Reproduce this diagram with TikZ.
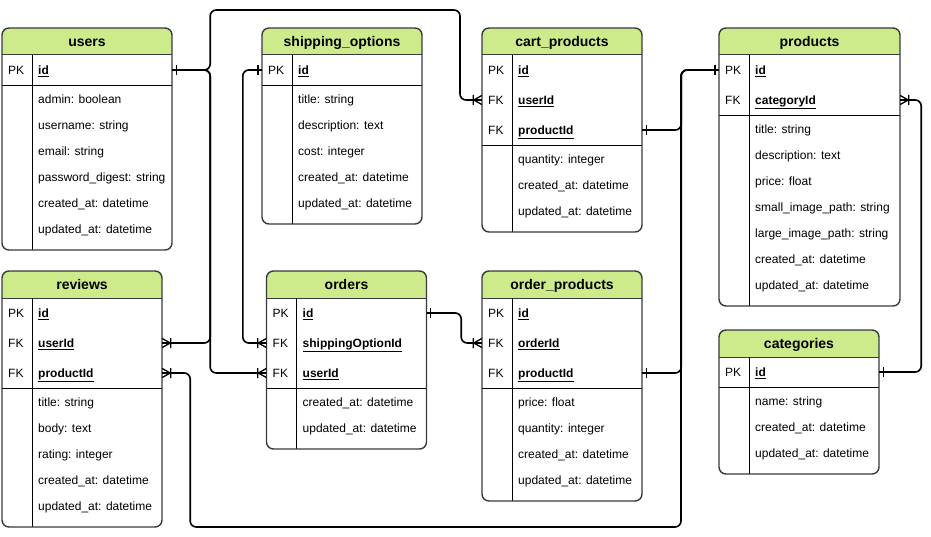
\documentclass[tikz,border=0pt]{standalone}
\usepackage{fontspec}
\setmainfont{Liberation Sans}
\definecolor{hdrgreen}{HTML}{CDEB8B}
\definecolor{bordergray}{HTML}{36393D}

\pgfdeclarearrow{
  name = ERmany,
  setup code = {
    \pgfarrowssettipend{0pt}
    \pgfarrowssetlineend{0pt}
    \pgfarrowssetbackend{-10pt}
    \pgfarrowshullpoint{0pt}{5pt}
    \pgfarrowshullpoint{0pt}{-5pt}
    \pgfarrowshullpoint{-10pt}{5pt}
    \pgfarrowshullpoint{-10pt}{-5pt}
  },
  drawing code = {
    \pgfsetdash{}{0pt}
    \pgfsetlinewidth{1.3pt}
    \pgfpathmoveto{\pgfqpoint{0pt}{4.5pt}}
    \pgfpathlineto{\pgfqpoint{-8pt}{0pt}}
    \pgfpathlineto{\pgfqpoint{0pt}{-4.5pt}}
    \pgfpathmoveto{\pgfqpoint{-8.5pt}{5pt}}
    \pgfpathlineto{\pgfqpoint{-8.5pt}{-5pt}}
    \pgfusepathqstroke
  },
}
\pgfdeclarearrow{
  name = ERone,
  setup code = {
    \pgfarrowssettipend{0pt}
    \pgfarrowssetlineend{0pt}
    \pgfarrowssetbackend{-5pt}
    \pgfarrowshullpoint{-4pt}{5pt}
    \pgfarrowshullpoint{-4pt}{-5pt}
  },
  drawing code = {
    \pgfsetdash{}{0pt}
    \pgfsetlinewidth{1.4pt}
    \pgfpathmoveto{\pgfqpoint{-4pt}{5pt}}
    \pgfpathlineto{\pgfqpoint{-4pt}{-5pt}}
    \pgfusepathqstroke
  },
}

\tikzset{
  rowbox/.style={shape=rectangle, inner sep=0pt, minimum height=30pt},
  basetext/.style={inner sep=0pt, anchor=west, text height=8.6pt, text depth=0pt, font=\fontsize{12}{14}\selectfont},
  keytype/.style={basetext},
  keyname/.style={basetext, font=\fontsize{12}{14}\selectfont\bfseries},
  fieldtext/.style={basetext},
  titletext/.style={inner sep=0pt, text height=9.5pt, text depth=0pt, font=\fontsize{14}{16}\selectfont\bfseries},
  tblborder/.style={draw=bordergray, line width=1.4pt},
  hdrline/.style={draw=bordergray, line width=1pt},
  sepline/.style={draw=black, line width=0.9pt},
  conn/.style={draw=black, line width=1.6pt, rounded corners=6pt},
}

% #1 name #2 left #3 top #4 width #5 title #6 keys (type/name) #7 nkeys #8 fields #9 nfields
\newcommand{\ertable}[9]{%
  \pgfmathsetmacro\ertL{#2}%
  \pgfmathsetmacro\ertR{#2+#4}%
  \pgfmathsetmacro\ertT{#3}%
  \pgfmathsetmacro\ertH{#3+27}%
  \pgfmathsetmacro\ertS{#3+27+30*#7}%
  \pgfmathsetmacro\ertB{#3+27+30*#7+26*#9+9}%
  \pgfmathsetmacro\ertD{#2+30}%
  \fill[white, rounded corners=7pt] (\ertL,\ertT) rectangle (\ertR,\ertB);
  \begin{scope}
    \clip[rounded corners=7pt] (\ertL,\ertT) rectangle (\ertR,\ertB);
    \fill[hdrgreen] (\ertL,\ertT) rectangle (\ertR,\ertH);
  \end{scope}
  \draw[hdrline] (\ertL,\ertH) -- (\ertR,\ertH);
  \draw[sepline] (\ertL,\ertS) -- (\ertR,\ertS);
  \draw[sepline] (\ertD,\ertH) -- (\ertD,\ertB);
  \draw[tblborder, rounded corners=7pt] (\ertL,\ertT) rectangle (\ertR,\ertB);
  \node[titletext] (#1-title) at ({#2+#4/2},{#3+13.5}) {#5};
  \foreach \kt/\kn [count=\i] in {#6} {
    \pgfmathsetmacro\ry{#3+27+30*\i-15}
    \node[rowbox, minimum width=#4 pt] (#1-\kn) at ({#2+#4/2},\ry) {};
    \node[keytype] (#1-\kn-type) at ({#2+6},\ry) {\kt};
    \node[keyname] (#1-\kn-name) at ({#2+36},\ry) {\underline{\kn}};
  }
  \foreach \fl [count=\i] in {#8} {
    \pgfmathsetmacro\ry{#3+27+30*#7+14+26*(\i-1)}
    \node[fieldtext] (#1-f\i) at ({#2+36},\ry) {\fl};
  }
}

\begin{document}
\begin{tikzpicture}[x=1pt, y=-1pt]
\useasboundingbox (0,0) rectangle (931,537);

\ertable{users}{2}{28}{170}{users}{PK/id}{1}%
  {admin: boolean, username: string, email: string, password\_digest: string, created\_at: datetime, updated\_at: datetime}{6}
\ertable{ship}{262}{28}{160}{shipping\_options}{PK/id}{1}%
  {title: string, description: text, cost: integer, created\_at: datetime, updated\_at: datetime}{5}
\ertable{cart}{482}{28}{160}{cart\_products}{PK/id, FK/userId, FK/productId}{3}%
  {quantity: integer, created\_at: datetime, updated\_at: datetime}{3}
\ertable{products}{719}{28}{181}{products}{PK/id, FK/categoryId}{2}%
  {title: string, description: text, price: float, small\_image\_path: string, large\_image\_path: string, created\_at: datetime, updated\_at: datetime}{7}
\ertable{reviews}{2}{271}{160}{reviews}{PK/id, FK/userId, FK/productId}{3}%
  {title: string, body: text, rating: integer, created\_at: datetime, updated\_at: datetime}{5}
\ertable{orders}{266.5}{271}{160}{orders}{PK/id, FK/shippingOptionId, FK/userId}{3}%
  {created\_at: datetime, updated\_at: datetime}{2}
\ertable{op}{482}{271}{160}{order\_products}{PK/id, FK/orderId, FK/productId}{3}%
  {price: float, quantity: integer, created\_at: datetime, updated\_at: datetime}{4}
\ertable{categories}{719}{330}{160}{categories}{PK/id}{1}%
  {name: string, created\_at: datetime, updated\_at: datetime}{3}

% users.id relations
\draw[conn, arrows={ERone-ERmany}] (users-id.east) -- ++(38,0) |- (460,10) |- (cart-userId.west);
\draw[conn, arrows={ERone-ERmany}] (users-id.east) -- ++(38,0) |- (reviews-userId.east);
\draw[conn, arrows={ERone-ERmany}] (users-id.east) -- ++(38,0) |- (orders-userId.west);
% shipping option
\draw[conn, arrows={ERone-ERmany}] (ship-id.west) -- ++(-19,0) |- (orders-shippingOptionId.west);
% orders -> order_products
\draw[conn, arrows={ERone-ERmany}] (orders-id.east) -- ++(34.5,0) |- (op-orderId.west);
% products
\draw[conn, arrows={ERone-ERone}] (cart-productId.east) -- ++(39,0) |- (products-id.west);
\draw[conn, arrows={ERone-ERone}] (op-productId.east) -- ++(39,0) |- (products-id.west);
\draw[conn, arrows={ERmany-ERone}] (reviews-productId.east) -- ++(28,0) |- (681,527) |- (products-id.west);
% categories
\draw[conn, arrows={ERmany-ERone}] (products-categoryId.east) -- ++(21,0) |- (categories-id.east);
\end{tikzpicture}
\end{document}
